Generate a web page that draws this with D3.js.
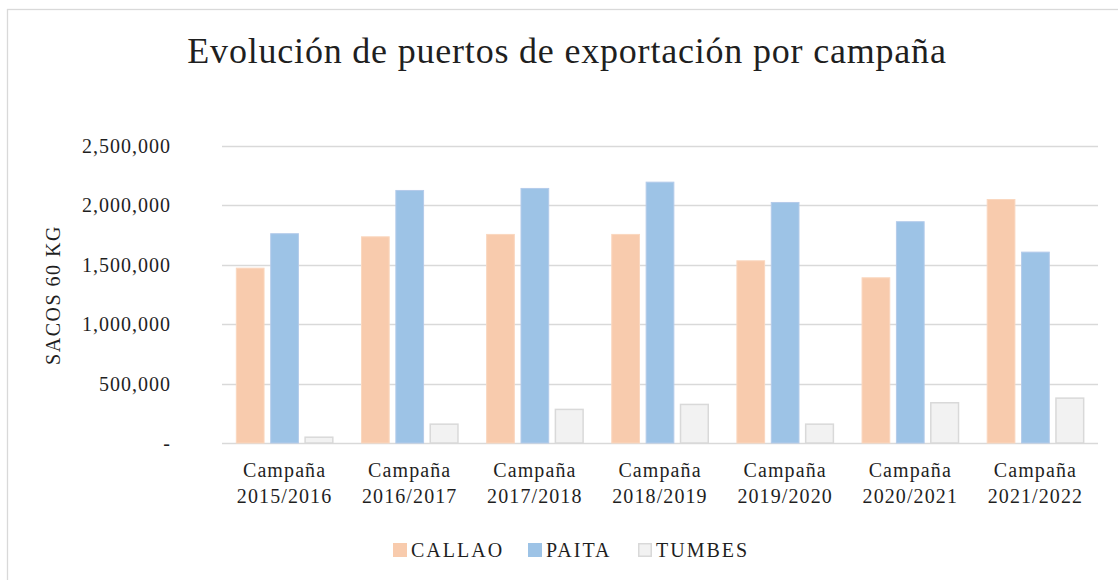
<!DOCTYPE html>
<html>
<head>
<meta charset="utf-8">
<script src="https://cdn.jsdelivr.net/npm/d3@7"></script>
<style>
  html, body { margin: 0; padding: 0; background: #fff; }
</style>
</head>
<body>
<svg id="chart" width="1118" height="580"></svg>
<script>
// chart data
const campaigns = ["Campaña 2015/2016", "Campaña 2016/2017", "Campaña 2017/2018", "Campaña 2018/2019",
                   "Campaña 2019/2020", "Campaña 2020/2021", "Campaña 2021/2022"];
const seriesNames = ["CALLAO", "PAITA", "TUMBES"];
const callao = [1478000, 1742000, 1762000, 1762000, 1540000, 1397000, 2056000];
const paita  = [1768000, 2132000, 2149000, 2202000, 2031000, 1869000, 1613000];
const tumbes = [55000, 165000, 289000, 331000, 165000, 345000, 384000];
const yTicks = [0, 500000, 1000000, 1500000, 2000000, 2500000];

const seriesValues = { CALLAO: callao, PAITA: paita, TUMBES: tumbes };
const fills   = { CALLAO: "#F8CBAD", PAITA: "#9DC3E6", TUMBES: "#F2F2F2" };
const strokes = { CALLAO: "#FAD7BF", PAITA: "#B4CBEA", TUMBES: "#D9D9D9" };
const serif = '"Liberation Serif", "DejaVu Serif", serif';
const textColor = "#1f1f1f";

const svg = d3.select("#chart");

// outer chart border
svg.append("rect")
    .attr("x", 7.5).attr("y", 9.5)
    .attr("width", 1118).attr("height", 580)
    .attr("fill", "none")
    .attr("stroke", "#D9D9D9")
    .attr("stroke-width", 1.3);

// title
svg.append("text")
    .attr("x", 567)
    .attr("y", 63)
    .attr("text-anchor", "middle")
    .style("font-family", serif)
    .style("font-size", "36px")
    .style("letter-spacing", "0.8px")
    .style("fill", textColor)
    .text("Evolución de puertos de exportación por campaña");

const plot = { left: 222, right: 1098, top: 146, bottom: 443 };

const x0 = d3.scaleBand()
    .domain(campaigns)
    .range([plot.left, plot.right])
    .paddingInner(0.217)
    .paddingOuter(0.1085);

const x1 = d3.scaleBand()
    .domain(seriesNames)
    .range([0, x0.bandwidth()])
    .paddingInner(0.15);

const y = d3.scaleLinear()
    .domain([0, 2500000])
    .range([plot.bottom, plot.top]);

// gridlines
svg.append("g")
    .selectAll("line")
    .data(yTicks)
    .join("line")
    .attr("x1", plot.left)
    .attr("x2", plot.right)
    .attr("y1", d => Math.round(y(d)) + 0.5)
    .attr("y2", d => Math.round(y(d)) + 0.5)
    .attr("stroke", "#D9D9D9")
    .attr("stroke-width", 1.3);

// y axis labels
const yAxis = svg.append("g")
    .attr("transform", `translate(${plot.left},0)`)
    .call(d3.axisLeft(y)
        .tickValues(yTicks)
        .tickSize(0)
        .tickPadding(51)
        .tickFormat(d => d === 0 ? "-" : d3.format(",")(d)));
yAxis.select(".domain").remove();
yAxis.selectAll("text")
    .style("font-family", serif)
    .style("font-size", "20px")
    .style("letter-spacing", "1px")
    .style("fill", textColor);

// bars
const groups = svg.append("g")
    .selectAll("g")
    .data(campaigns)
    .join("g")
    .attr("transform", d => `translate(${x0(d)},0)`);

groups.selectAll("rect")
    .data((c, i) => seriesNames.map(s => ({ series: s, value: seriesValues[s][i] })))
    .join("rect")
    .attr("x", d => x1(d.series) + 0.75)
    .attr("width", x1.bandwidth() - 1.5)
    .attr("y", d => y(d.value) + 0.75)
    .attr("height", d => plot.bottom - y(d.value) - 0.75)
    .attr("fill", d => fills[d.series])
    .attr("stroke", d => strokes[d.series])
    .attr("stroke-width", d => d.series === "TUMBES" ? 1.5 : 1);

// x axis category labels (two lines)
const xLabels = svg.append("g")
    .selectAll("text")
    .data(campaigns)
    .join("text")
    .attr("x", d => x0(d) + x0.bandwidth() / 2)
    .attr("y", 477)
    .attr("text-anchor", "middle")
    .style("font-family", serif)
    .style("font-size", "20px")
    .style("letter-spacing", "1.1px")
    .style("fill", textColor);
xLabels.each(function(d) {
    const parts = d.split(" ");
    const t = d3.select(this);
    t.append("tspan").attr("x", x0(d) + x0.bandwidth() / 2).attr("dy", 0).text(parts[0]);
    t.append("tspan").attr("x", x0(d) + x0.bandwidth() / 2).attr("dy", 26).text(parts[1]);
});

// y axis title
svg.append("text")
    .attr("transform", "translate(60,295) rotate(-90)")
    .attr("text-anchor", "middle")
    .style("font-family", serif)
    .style("font-size", "20px")
    .style("letter-spacing", "1.5px")
    .style("fill", textColor)
    .text("SACOS 60 KG");

// legend
const legendPos = [393, 528, 638];
const legend = svg.append("g")
    .selectAll("g")
    .data(seriesNames)
    .join("g")
    .attr("transform", (d, i) => `translate(${legendPos[i]},543)`);
legend.append("rect")
    .attr("x", 0.75).attr("y", 0.75)
    .attr("width", 12.5).attr("height", 12.5)
    .attr("fill", d => fills[d])
    .attr("stroke", d => d === "TUMBES" ? "#D9D9D9" : fills[d])
    .attr("stroke-width", 1.5);
legend.append("text")
    .attr("x", 18)
    .attr("y", 14)
    .style("font-family", serif)
    .style("font-size", "20px")
    .style("letter-spacing", "2px")
    .style("fill", textColor)
    .text(d => d);
</script>
</body>
</html>
